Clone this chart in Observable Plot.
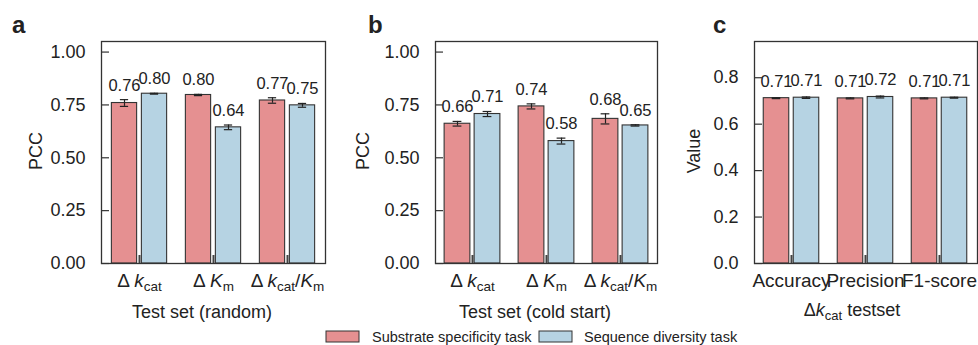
<!DOCTYPE html>
<html><head><meta charset="utf-8">
<script src="https://cdn.jsdelivr.net/npm/d3@7"></script>
<script src="https://cdn.jsdelivr.net/npm/@observablehq/plot@0.6"></script>
<style>
html,body{margin:0;padding:0;background:#fff;}
#root{position:relative;width:978px;height:345px;overflow:hidden;font-family:"Liberation Sans",Arial,sans-serif;}
#root svg{position:absolute;top:0;}
</style></head><body><div id="root"></div>
<script>
// ---- data ----
const kineticCats = ["dkcat", "dKm", "dkcatKm"];
const metricCats = ["Accuracy", "Precision", "F1-score"];
const seriesNames = ["Substrate specificity task", "Sequence diversity task"];
const seriesColors = ["#e59091", "#b6d3e3"];
const pccTicks = [0, 0.25, 0.5, 0.75, 1.0];
const valueTicks = [0, 0.2, 0.4, 0.6, 0.8];

const randomSubstrate = [0.759, 0.797, 0.771];
const randomSubstrateErr = [0.016, 0.003, 0.013];
const randomSequence = [0.803, 0.644, 0.748];
const randomSequenceErr = [0.002, 0.011, 0.009];

const coldSubstrate = [0.661, 0.743, 0.684];
const coldSubstrateErr = [0.011, 0.012, 0.024];
const coldSequence = [0.707, 0.579, 0.653];
const coldSequenceErr = [0.012, 0.014, 0.003];

const clsSubstrate = [0.712, 0.711, 0.711];
const clsSubstrateErr = [0.002, 0.002, 0.002];
const clsSequence = [0.714, 0.717, 0.714];
const clsSequenceErr = [0.003, 0.004, 0.002];

// rich tick labels (real text with tspans)
const tickLabelHTML = {
  dkcat: 'Δ <tspan font-style="italic">k</tspan><tspan font-size="13.5" dy="4">cat</tspan>',
  dKm: 'Δ <tspan font-style="italic">K</tspan><tspan font-size="13.5" dy="4">m</tspan>',
  dkcatKm: 'Δ <tspan font-style="italic">k</tspan><tspan font-size="13.5" dy="4">cat</tspan><tspan dy="-4">/</tspan><tspan font-style="italic">K</tspan><tspan font-size="13.5" dy="4">m</tspan>'
};

const FONT = '"Liberation Sans", Arial, sans-serif';
const INK = "#222";
const root = document.getElementById("root");

function panel({cats, s1, e1, s2, e2, yMax, ticks, fmt, left, width, marginLeft, marginRight, labelDy}) {
  const H = 300, mt = 41, mb = 37;
  const fw = width - marginLeft - marginRight;
  const fh = H - mt - mb;
  const pi = 0.24, po = 0.12;
  const step = fw / (cats.length - pi + 2 * po);
  const h = step * (1 - pi) / 2;
  const rows = (v, e) => cats.map((c, i) => ({cat: c, value: v[i], err: e[i]}));
  const d1 = rows(s1, e1), d2 = rows(s2, e2);
  const f2 = d3.format(".2f");
  const plot = Plot.plot({
    width, height: H, marginTop: mt, marginBottom: mb, marginLeft, marginRight,
    style: {fontFamily: FONT, fontSize: "18px", color: INK, background: "transparent", overflow: "visible"},
    x: {domain: cats, paddingInner: pi, paddingOuter: po, label: null},
    y: {domain: [0, yMax], label: null},
    marks: [
      Plot.tickX(cats, {x: d => d, insetTop: fh - 8, stroke: "#444", strokeWidth: 2}),
      Plot.barY(d1, {x: "cat", y: "value", fill: seriesColors[0], stroke: "#333", strokeWidth: 1.1, insetLeft: h - 28, insetRight: h + 2}),
      Plot.barY(d2, {x: "cat", y: "value", fill: seriesColors[1], stroke: "#333", strokeWidth: 1.1, insetLeft: h + 2, insetRight: h - 28}),
      Plot.ruleX(d1, {x: "cat", y1: d => d.value - d.err, y2: d => d.value + d.err, dx: -15, stroke: INK, strokeWidth: 1.2}),
      Plot.ruleX(d2, {x: "cat", y1: d => d.value - d.err, y2: d => d.value + d.err, dx: 15, stroke: INK, strokeWidth: 1.2}),
      Plot.tickY(d1, {x: "cat", y: d => d.value + d.err, insetLeft: h - 19.5, insetRight: h + 10.5, stroke: INK, strokeWidth: 1.2}),
      Plot.tickY(d1, {x: "cat", y: d => d.value - d.err, insetLeft: h - 19.5, insetRight: h + 10.5, stroke: INK, strokeWidth: 1.2}),
      Plot.tickY(d2, {x: "cat", y: d => d.value + d.err, insetLeft: h + 10.5, insetRight: h - 19.5, stroke: INK, strokeWidth: 1.2}),
      Plot.tickY(d2, {x: "cat", y: d => d.value - d.err, insetLeft: h + 10.5, insetRight: h - 19.5, stroke: INK, strokeWidth: 1.2}),
      Plot.text(d1, {x: "cat", y: d => d.value + d.err, text: d => f2(d.value), dx: -15, dy: labelDy, lineAnchor: "bottom", fontSize: 16.5, fill: INK}),
      Plot.text(d2, {x: "cat", y: d => d.value + d.err, text: d => f2(d.value), dx: 15, dy: labelDy, lineAnchor: "bottom", fontSize: 16.5, fill: INK}),
      Plot.tickY(ticks, {y: d => d, insetRight: fw - 8, stroke: "#333", strokeWidth: 1.2}),
      Plot.axisY({ticks, tickSize: 0, tickPadding: 16, tickFormat: fmt, fontSize: 18, label: null}),
      Plot.axisX({tickSize: 0, tickPadding: 10, fontSize: 19, tickFormat: d => d, label: null}),
      Plot.frame({stroke: "#333", strokeWidth: 1.3})
    ]
  });
  plot.style.left = left + "px";
  plot.querySelectorAll('g[aria-label="x-axis tick label"] text').forEach(t => {
    const k = t.textContent;
    if (tickLabelHTML[k]) t.innerHTML = tickLabelHTML[k];
  });
  root.appendChild(plot);
}

panel({cats: kineticCats, s1: randomSubstrate, e1: randomSubstrateErr, s2: randomSequence, e2: randomSequenceErr,
  yMax: 1.05, ticks: pccTicks, fmt: d3.format(".2f"), left: 0, width: 330, marginLeft: 101, marginRight: 5, labelDy: -9});
panel({cats: kineticCats, s1: coldSubstrate, e1: coldSubstrateErr, s2: coldSequence, e2: coldSequenceErr,
  yMax: 1.05, ticks: pccTicks, fmt: d3.format(".2f"), left: 330, width: 330, marginLeft: 105, marginRight: 3, labelDy: -9});
panel({cats: metricCats, s1: clsSubstrate, e1: clsSubstrateErr, s2: clsSequence, e2: clsSequenceErr,
  yMax: 0.956, ticks: valueTicks, fmt: d3.format(".1f"), left: 660, width: 318, marginLeft: 94, marginRight: 1, labelDy: -11});

// ---- overlay: panel letters, axis titles, legend ----
const ov = d3.select(root).append("svg").attr("width", 978).attr("height", 345)
  .style("left", "0px").style("font-family", FONT).style("fill", INK);
[["a", 12], ["b", 368], ["c", 713]].forEach(([t, x]) =>
  ov.append("text").attr("x", x).attr("y", 33).attr("font-size", 24).attr("font-weight", "bold").text(t));
[["PCC", 36], ["PCC", 363], ["Value", 694]].forEach(([t, x]) =>
  ov.append("text").attr("transform", `translate(${x},151) rotate(-90)`).attr("text-anchor", "middle")
    .attr("dominant-baseline", "central").attr("font-size", 18).text(t));
ov.append("text").attr("x", 202).attr("y", 318).attr("text-anchor", "middle").attr("font-size", 18).text("Test set (random)");
ov.append("text").attr("x", 535).attr("y", 318).attr("text-anchor", "middle").attr("font-size", 18).text("Test set (cold start)");
ov.append("text").attr("x", 852).attr("y", 316).attr("text-anchor", "middle").attr("font-size", 18)
  .html('Δ<tspan font-style="italic">k</tspan><tspan font-size="13" dy="4">cat</tspan><tspan dy="-4"> testset</tspan>');
const legendX = [[326, 372], [539, 584]];
seriesNames.forEach((name, i) => {
  ov.append("rect").attr("x", legendX[i][0]).attr("y", 331).attr("width", 33).attr("height", 11)
    .attr("fill", seriesColors[i]).attr("stroke", "#333").attr("stroke-width", 1);
  ov.append("text").attr("x", legendX[i][1]).attr("y", 341.5).attr("font-size", 14.5).text(name);
});
</script></body></html>
